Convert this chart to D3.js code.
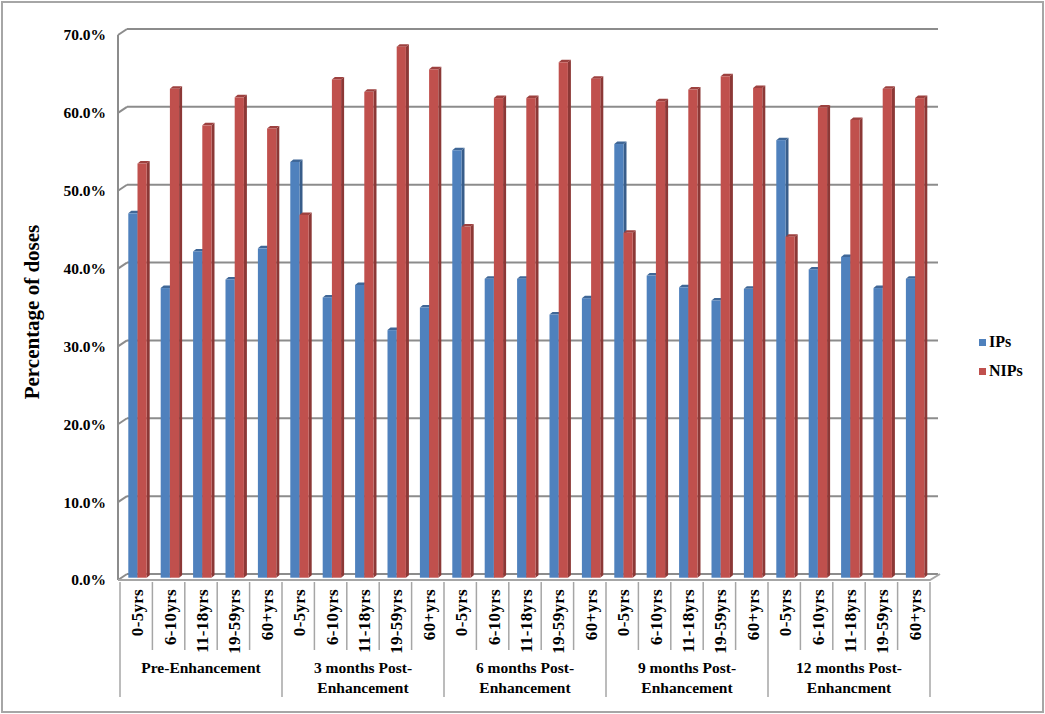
<!DOCTYPE html>
<html>
<head>
<meta charset="utf-8">
<script src="https://cdn.jsdelivr.net/npm/d3@7"></script>
<style>
  body { margin: 0; background: #fff; }
  text { font-family: "Liberation Serif", "Times New Roman", serif; font-weight: bold; fill: #000; }
</style>
</head>
<body>
<div id="chart"></div>
<script>
// data
var groups = ["Pre-Enhancement", "3 months Post-Enhancement", "6 months Post-Enhancement",
              "9 months Post-Enhancement", "12 months Post-Enhancment"];
var groupLines = [["Pre-Enhancement"], ["3 months Post-", "Enhancement"], ["6 months Post-", "Enhancement"],
                  ["9 months Post-", "Enhancement"], ["12 months Post-", "Enhancment"]];
var ages = ["0-5yrs", "6-10yrs", "11-18yrs", "19-59yrs", "60+yrs"];
var series = ["IPs", "NIPs"];
var ipsValues = [46.8, 37.2, 41.9, 38.3, 42.3,
                 53.4, 36.0, 37.6, 31.8, 34.7,
                 54.9, 38.4, 38.4, 33.8, 35.9,
                 55.7, 38.8, 37.3, 35.6, 37.1,
                 56.2, 39.6, 41.2, 37.2, 38.4];
var nipsValues = [53.2, 62.8, 58.1, 61.7, 57.7,
                  46.6, 64.0, 62.4, 68.2, 65.3,
                  45.1, 61.6, 61.6, 66.2, 64.1,
                  44.3, 61.2, 62.7, 64.4, 62.9,
                  43.8, 60.4, 58.8, 62.8, 61.6];
var yTicks = [0, 10, 20, 30, 40, 50, 60, 70];

var colors = { IPs: ["#4f81bd", "#3f6797", "#385d8a"], NIPs: ["#c0504d", "#9d413f", "#8c3836"] };

var width = 1045, height = 714;
var left = 120, right = 930, base = 580;
var DX = 8, DY = -6;          // depth of the back wall
var bdx = 3, bdy = -2.5;      // depth of each column
var bx = 1.3, by = -2.3;      // column plane offset

var svg = d3.select("#chart").append("svg")
    .attr("width", width)
    .attr("height", height);

// outer border
svg.append("rect")
    .attr("x", 2).attr("y", 2)
    .attr("width", width - 4).attr("height", height - 4)
    .attr("fill", "none").attr("stroke", "#a6a6a6").attr("stroke-width", 2);

var y = d3.scaleLinear().domain([0, 70]).range([base, 35]);
var x0 = d3.scaleBand().domain(groups).range([left, right]);
var x1 = d3.scaleBand().domain(ages).range([0, x0.bandwidth()]);
var x2 = d3.scaleBand().domain(series).range([0, x1.bandwidth()]).paddingInner(0).paddingOuter(0.76);

var g = svg.append("g");

// gridlines on the back wall + left wall diagonals
yTicks.forEach(function(v) {
  g.append("line")
      .attr("x1", left - 1 + DX).attr("x2", right + DX)
      .attr("y1", y(v) + DY).attr("y2", y(v) + DY)
      .attr("stroke", "#8c8c8c").attr("stroke-width", 2);
  g.append("line")
      .attr("x1", left - 2).attr("x2", left - 1 + DX)
      .attr("y1", y(v)).attr("y2", y(v) + DY)
      .attr("stroke", "#8c8c8c").attr("stroke-width", 2);
  g.append("text")
      .attr("x", 106).attr("y", y(v))
      .attr("dy", "0.35em")
      .attr("text-anchor", "end")
      .style("font-size", "15.5px")
      .text(d3.format(".1%")(v / 100));
});

// front axis line and floor
g.append("line")
    .attr("x1", left - 2).attr("x2", left - 2)
    .attr("y1", y(70)).attr("y2", base)
    .attr("stroke", "#8c8c8c").attr("stroke-width", 2);
g.append("path")
    .attr("d", "M" + (left - 2) + "," + base + "L" + right + "," + base +
               "L" + (right + DX + 2) + "," + (base + DY))
    .attr("fill", "none").attr("stroke", "#a6a6a6").attr("stroke-width", 2);

// category divider lines below the floor
var slots = [];
groups.forEach(function(gr, gi) {
  ages.forEach(function(a, ai) {
    slots.push({ group: gr, age: a, i: gi * ages.length + ai });
  });
});
var below = svg.append("g");
d3.range(slots.length + 1).forEach(function(k) {
  var xx = left + k * x1.bandwidth();
  var isGroup = k % ages.length === 0;
  below.append("line")
      .attr("x1", xx).attr("x2", xx)
      .attr("y1", base + 2).attr("y2", isGroup ? 697 : 650)
      .attr("stroke", "#a6a6a6").attr("stroke-width", 1.5);
});

// age labels
below.selectAll(".age")
    .data(slots)
    .enter().append("text")
    .attr("class", "age")
    .attr("transform", function(d) {
      return "translate(" + (x0(d.group) + x1(d.age) + x1.bandwidth() / 2 + 1) + ",589) rotate(-90)";
    })
    .attr("dy", "0.35em")
    .attr("text-anchor", "end")
    .style("font-size", "17px")
    .style("letter-spacing", "0.3px")
    .text(function(d) { return d.age; });

// group labels
groups.forEach(function(gr, gi) {
  var t = below.append("text")
      .attr("x", x0(gr) + x0.bandwidth() / 2)
      .attr("y", 673)
      .attr("text-anchor", "middle")
      .style("font-size", "15.5px");
  groupLines[gi].forEach(function(line, li) {
    t.append("tspan")
        .attr("x", x0(gr) + x0.bandwidth() / 2)
        .attr("y", 673 + li * 19.5)
        .text(line);
  });
});

// columns
var bars = [];
slots.forEach(function(s) {
  series.forEach(function(se) {
    bars.push({ slot: s, series: se, value: se === "IPs" ? ipsValues[s.i] : nipsValues[s.i] });
  });
});
var w = x2.bandwidth();
var col = svg.append("g").selectAll(".col")
    .data(bars)
    .enter().append("g")
    .attr("class", "col");

function bx0(d) { return x0(d.slot.group) + x1(d.slot.age) + x2(d.series) + bx; }
function bTop(d) { return y(d.value) + by; }
var bBase = base + by;

col.append("path")   // side
    .attr("d", function(d) {
      var xr = bx0(d) + w, t = bTop(d);
      return "M" + xr + "," + t + "L" + (xr + bdx) + "," + (t + bdy) +
             "L" + (xr + bdx) + "," + (bBase + bdy) + "L" + xr + "," + bBase + "Z";
    })
    .attr("fill", function(d) { return colors[d.series][2]; });
col.append("path")   // top
    .attr("d", function(d) {
      var xl = bx0(d), t = bTop(d);
      return "M" + xl + "," + t + "L" + (xl + bdx) + "," + (t + bdy) +
             "L" + (xl + w + bdx) + "," + (t + bdy) + "L" + (xl + w) + "," + t + "Z";
    })
    .attr("fill", function(d) { return colors[d.series][1]; });
col.append("rect")   // front
    .attr("x", bx0)
    .attr("y", bTop)
    .attr("width", w)
    .attr("height", function(d) { return bBase - bTop(d); })
    .attr("fill", function(d) { return colors[d.series][0]; });

// y axis title
svg.append("text")
    .attr("transform", "translate(32,312) rotate(-90)")
    .attr("dy", "0.35em")
    .attr("text-anchor", "middle")
    .style("font-size", "21px")
    .text("Percentage of doses");

// legend
var legend = svg.append("g").selectAll(".leg")
    .data(series)
    .enter().append("g")
    .attr("class", "leg")
    .attr("transform", function(d, i) { return "translate(979," + (339 + i * 29) + ")"; });
legend.append("rect")
    .attr("width", 7).attr("height", 7)
    .attr("fill", function(d) { return colors[d][0]; });
legend.append("text")
    .attr("x", 10).attr("y", 8)
    .style("font-size", "16px")
    .text(function(d) { return d; });
</script>
</body>
</html>
